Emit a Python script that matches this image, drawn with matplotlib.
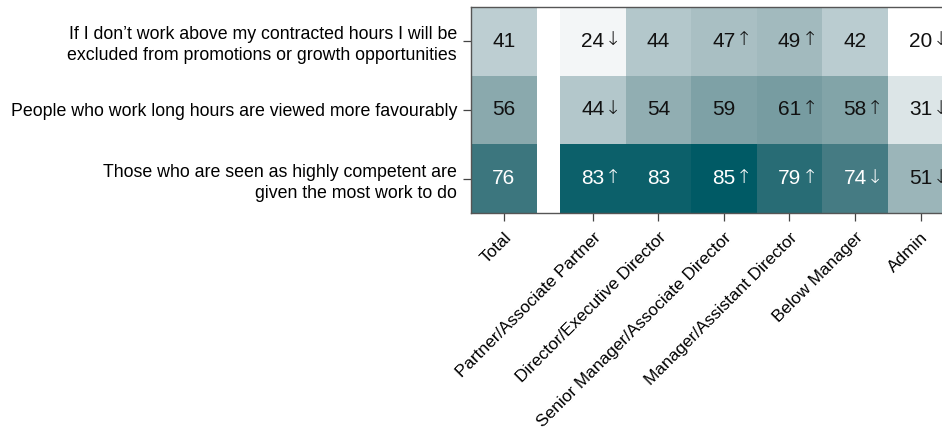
import numpy as np
import matplotlib
matplotlib.use('Agg')
import matplotlib.pyplot as plt
from matplotlib.colors import LinearSegmentedColormap

plt.rcParams['font.family'] = ['Liberation Sans', 'DejaVu Sans']

# statements (rows, top to bottom)
statements = [
    "If I don\u2019t work above my contracted hours I will be\nexcluded from promotions or growth opportunities",
    "People who work long hours are viewed more favourably",
    "Those who are seen as highly competent are\ngiven the most work to do",
]
groups = ['Total', 'Partner/Associate Partner', 'Director/Executive Director',
          'Senior Manager/Associate Director', 'Manager/Assistant Director',
          'Below Manager', 'Admin']

total = [41, 56, 76]
partner = [24, 44, 83]
director = [44, 54, 83]
senior = [47, 59, 85]
manager = [49, 61, 79]
below = [42, 58, 74]
admin = [20, 31, 51]

# significance markers: 1 = higher than total, -1 = lower, 0 = none
sig_partner = [-1, -1, 1]
sig_director = [0, 0, 0]
sig_senior = [1, 0, 1]
sig_manager = [1, 1, 1]
sig_below = [0, 1, -1]
sig_admin = [-1, -1, -1]

vals = np.array([total, partner, director, senior, manager, below, admin]).T
sigs = np.array([[0, 0, 0], sig_partner, sig_director, sig_senior,
                 sig_manager, sig_below, sig_admin]).T

vmin, vmax = 20, 85
cmap = LinearSegmentedColormap.from_list('teal', [
    (0.0, '#ffffff'),
    ((44 - vmin) / (vmax - vmin), '#b3c7cb'),
    ((56 - vmin) / (vmax - vmin), '#8aa9ad'),
    ((76 - vmin) / (vmax - vmin), '#3d767e'),
    (1.0, '#005a65'),
])

gap = 0.36
xcent = np.array([0.5] + [1 + gap + 0.5 + i for i in range(6)])
xedges = np.array([0, 1, 1 + gap] + [1 + gap + i + 1 for i in range(6)])
yedges = np.arange(4)

# insert a masked column for the gap after Total
grid = np.full((3, 8), np.nan)
grid[:, 0] = vals[:, 0]
grid[:, 2:] = vals[:, 1:]
grid = np.ma.masked_invalid(grid)

fig = plt.figure(figsize=(9.42, 4.32), dpi=100)
ax = fig.add_axes([0.5, 0.507, 0.512, 0.477])
ax.pcolormesh(xedges, yedges, grid, cmap=cmap, vmin=vmin, vmax=vmax)
ax.set_xlim(0, xedges[-1])
ax.set_ylim(3, 0)

for r in range(3):
    for c in range(7):
        v = vals[r, c]
        col = 'white' if v >= 70 else '#111111'
        x = xcent[c]
        ax.text(x, r + 0.5, str(v), ha='center', va='center', fontsize=15, color=col)
        if sigs[r, c] != 0:
            arrow = '\u2191' if sigs[r, c] > 0 else '\u2193'
            ax.annotate(arrow, (x, r + 0.5), xytext=(8.5, 1), textcoords='offset points',
                        ha='left', va='center', fontsize=14, color=col,
                        family=['DejaVu Sans'], fontweight='light')

ax.set_yticks(np.arange(3) + 0.5)
ax.set_yticklabels(statements, fontsize=12.8, ha='right', linespacing=1.3)
ax.set_xticks(xcent)
ax.set_xticklabels(groups, fontsize=12.4, rotation=45, ha='right', rotation_mode='anchor')
ax.tick_params(length=6, color='#444444', width=0.9, pad=4)
ax.tick_params(axis='x', pad=6)
for s in ['top', 'bottom', 'left', 'right']:
    ax.spines[s].set_color('#555555')
    ax.spines[s].set_linewidth(1.0)

fig.savefig('out.png', dpi=100)
